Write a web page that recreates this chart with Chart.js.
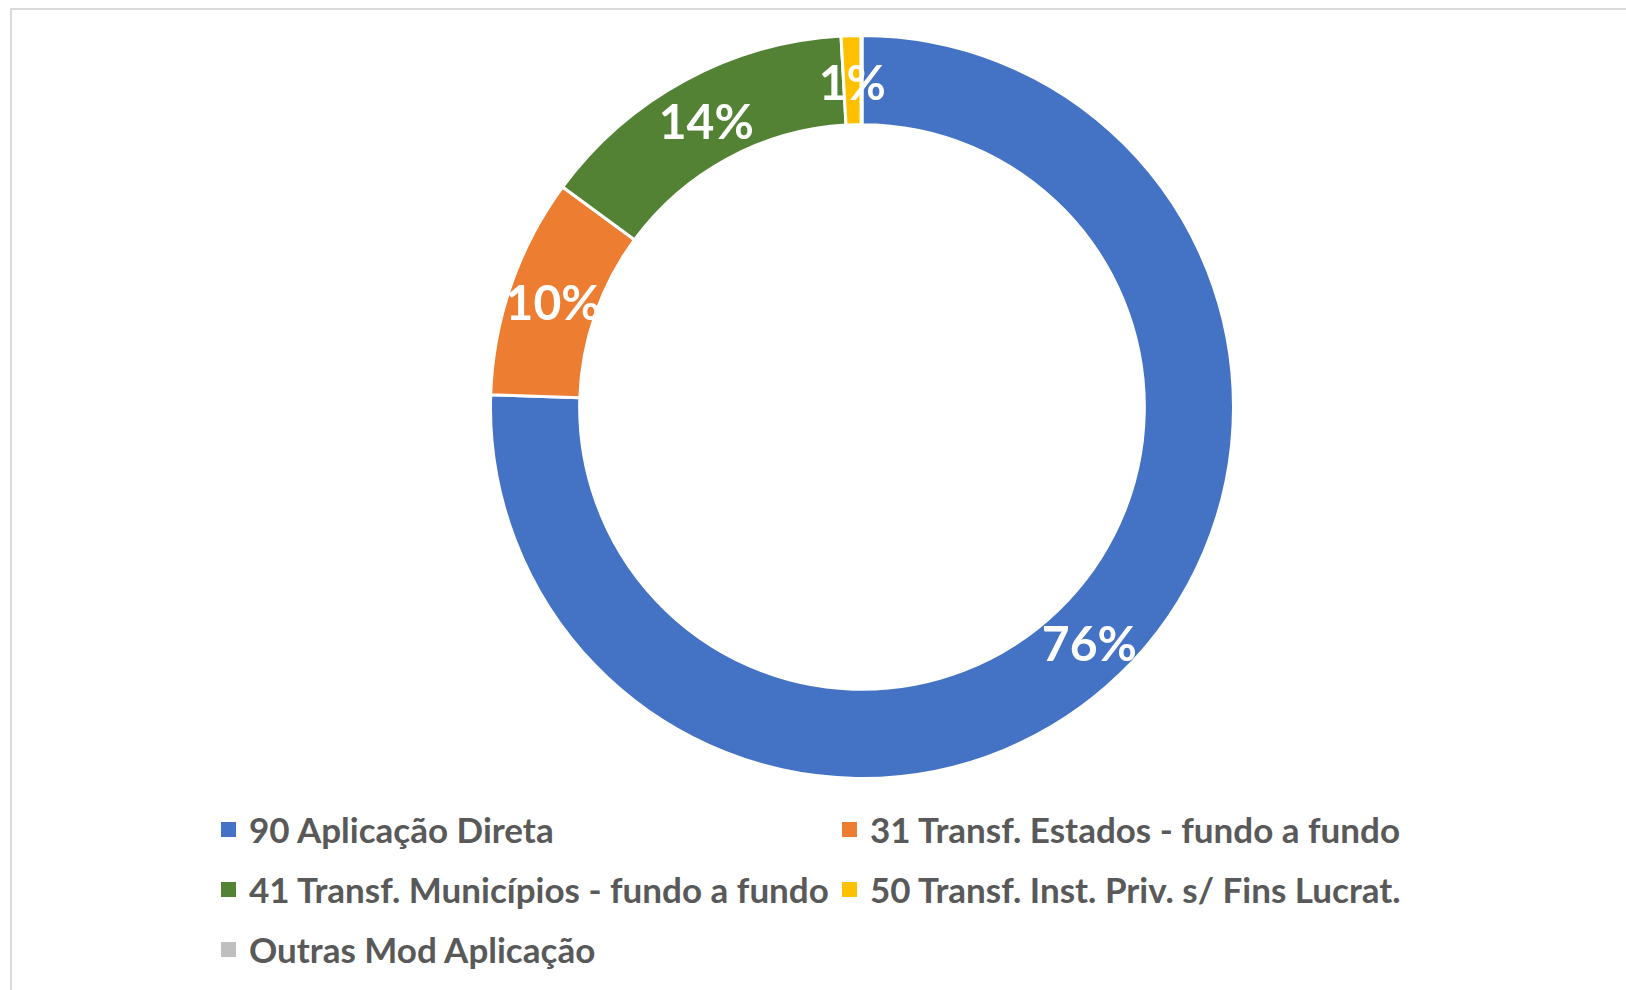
<!DOCTYPE html>
<html>
<head>
<meta charset="utf-8">
<script src="https://cdn.jsdelivr.net/npm/chart.js@4/dist/chart.umd.min.js"></script>
<style>
    html, body { margin: 0; padding: 0; background: #fff; overflow: hidden; }
    body { width: 1626px; height: 990px; position: relative; }
    #frame {
        position: absolute; left: 10px; top: 8px;
        width: 1700px; height: 1100px;
        border-top: 2px solid #d9d9d9; border-left: 2px solid #d9d9d9;
    }
    #wrap { position: absolute; left: 489px; top: 34px; width: 746px; height: 746px; }
    #legend {
        position: absolute; left: 221px; top: 809px;
        display: grid; grid-template-columns: 621px auto; grid-auto-rows: 60px;
        font: bold 35px Lato, "Open Sans", sans-serif; color: #595959;
    }
    .item { display: flex; align-items: center; height: 40px; white-space: nowrap; }
    .box { width: 15px; height: 15px; margin-right: 13px; flex: none; }
</style>
</head>
<body>
<div id="frame"></div>
<div id="wrap"><canvas id="chart"></canvas></div>
<div id="legend"></div>

<script>
/* ================= DATA ================= */
const categories = [
    "90 Aplicação Direta",
    "31 Transf. Estados - fundo a fundo",
    "41 Transf. Municípios - fundo a fundo",
    "50 Transf. Inst. Priv. s/ Fins Lucrat.",
    "Outras Mod Aplicação"
];
const shares = [75.52, 9.57, 14.01, 0.86, 0.04];
const colors = ["#4472c4", "#ed7d31", "#548235", "#ffc000", "#bfbfbf"];

/* ================= SLICE LABELS ================= */
const sliceLabels = {
    id: "sliceLabels",
    afterDatasetsDraw(chart) {
        const ctx = chart.ctx;
        const data = chart.data.datasets[0].data;
        const total = data.reduce((a, b) => a + b, 0);
        ctx.save();
        ctx.fillStyle = "#ffffff";
        ctx.font = "bold 48px Lato, 'Open Sans', sans-serif";
        ctx.textAlign = "center";
        ctx.textBaseline = "middle";
        chart.getDatasetMeta(0).data.forEach((arc, i) => {
            const pct = Math.round(data[i] / total * 100);
            if (pct < 1) return;
            const p = arc.tooltipPosition();
            ctx.fillText(pct + "%", p.x, p.y + 4);
        });
        ctx.restore();
    }
};

/* ================= CHART ================= */
const chart = new Chart(document.getElementById("chart"), {
    type: "doughnut",
    data: {
        labels: categories,
        datasets: [{
            data: shares,
            backgroundColor: colors,
            borderColor: "#ffffff",
            borderWidth: 3
        }]
    },
    options: {
        responsive: true,
        maintainAspectRatio: false,
        animation: false,
        cutout: "76%",
        plugins: {
            legend: { display: false },
            tooltip: { enabled: false }
        }
    },
    plugins: [sliceLabels]
});

/* ================= LEGEND ================= */
const legendEl = document.getElementById("legend");
categories.forEach((name, i) => {
    const item = document.createElement("div");
    item.className = "item";
    const box = document.createElement("span");
    box.className = "box";
    box.style.background = colors[i];
    item.appendChild(box);
    item.appendChild(document.createTextNode(name));
    legendEl.appendChild(item);
});
</script>
</body>
</html>
